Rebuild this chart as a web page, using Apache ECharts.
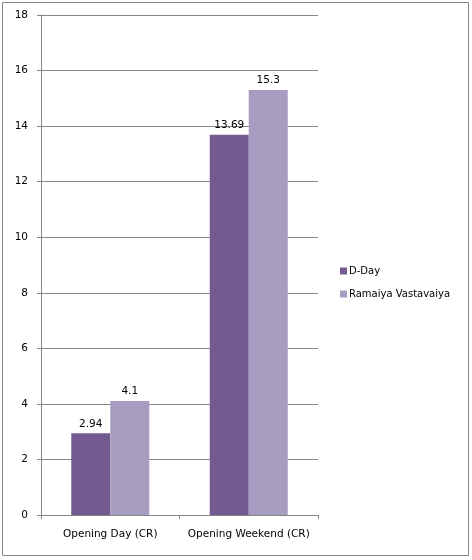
<!DOCTYPE html>
<html><head><meta charset="utf-8">
<script src="https://cdn.jsdelivr.net/npm/echarts@6/dist/echarts.min.js"></script>
<style>html,body{margin:0;padding:0;background:#fff}#c{width:472px;height:560px}</style>
</head><body><div id="c"></div>
<script>
const categories = ['Opening Day (CR)', 'Opening Weekend (CR)'];
const dDay = [2.94, 13.69];
const ramaiya = [4.1, 15.3];
const seriesNames = ['D-Day', 'Ramaiya Vastavaiya'];
const chart = echarts.init(document.getElementById('c'));
const font = 'DejaVu Sans';
const lbl = {show: true, position: 'top', distance: 4, color: '#000', fontFamily: font, fontSize: 10.5};
chart.setOption({
  animation: false,
  graphic: [{type: 'rect', shape: {x: 2.5, y: 2.5, width: 466, height: 553}, style: {fill: 'none', stroke: '#868686', lineWidth: 1}, z: -1}],
  legend: {
    orient: 'vertical', left: 335, top: 261, itemWidth: 7, itemHeight: 7, itemGap: 13,
    icon: 'rect',
    textStyle: {fontFamily: font, fontSize: 10, color: '#000', padding: [0,0,0,-3]},
    data: seriesNames
  },
  grid: {left: 41, top: 15, width: 277, height: 500, containLabel: false},
  xAxis: {
    type: 'category', data: categories,
    axisLine: {lineStyle: {color: '#868686'}},
    axisTick: {show: true, length: 4, lineStyle: {color: '#868686'}},
    axisLabel: {color: '#000', fontFamily: font, fontSize: 10.5, margin: 14, interval: 0}
  },
  yAxis: {
    type: 'value', min: 0, max: 18, interval: 2,
    axisLine: {show: true, lineStyle: {color: '#868686'}},
    axisTick: {show: true, length: 4, lineStyle: {color: '#868686'}},
    splitLine: {lineStyle: {color: '#868686'}},
    axisLabel: {color: '#000', fontFamily: font, fontSize: 10.5, margin: 13}
  },
  series: [
    {name: seriesNames[0], type: 'bar', data: dDay, barWidth: 39, barGap: '0%', itemStyle: {color: '#735A90'}, label: lbl},
    {name: seriesNames[1], type: 'bar', data: ramaiya, barWidth: 39, barGap: '0%', itemStyle: {color: '#A89CC1'}, label: lbl}
  ]
});
</script></body></html>
